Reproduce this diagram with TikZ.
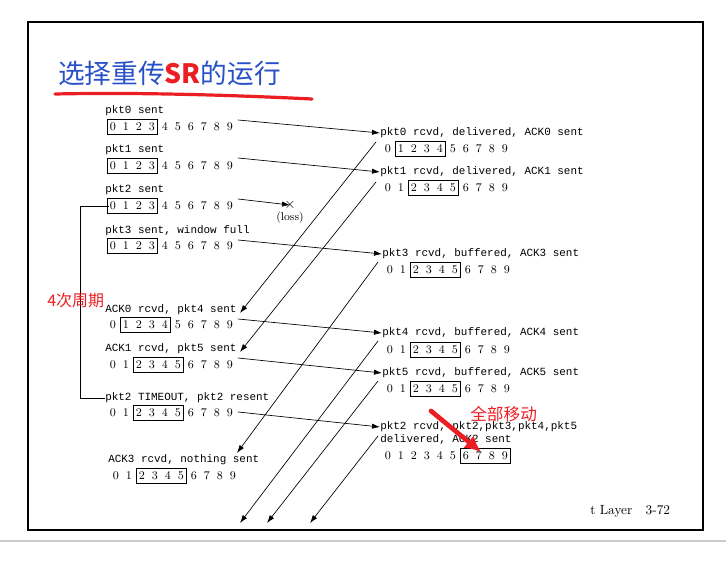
\documentclass[tikz,border=0pt]{standalone}
\usepackage{fontspec}
\setmonofont{Liberation Mono}
\newfontfamily\cjk{Noto Sans CJK SC}
\usetikzlibrary{arrows.meta,fit}
\definecolor{redone}{RGB}{235,30,35}
\definecolor{titleblue}{RGB}{40,80,200}
\newcommand\winrow[5]{%
  \foreach \i in {0,...,9} \node[dig] (#1-\i) at ({#2+13*\i},#3) {\i};
  \node[winbox, fit=(#1-#4)(#1-#5)] (#1-box) {};}
\begin{document}
\begin{tikzpicture}[x=0.75pt,y=-0.75pt,
  lbl/.style={anchor=west,inner sep=0pt,font=\ttfamily\fontsize{8.2}{9}\selectfont},
  dig/.style={inner sep=0.6pt,font=\fontsize{8.8}{9}\selectfont},
  winbox/.style={draw,inner xsep=0.8pt,inner ysep=1.6pt,line width=0.6pt},
  msg/.style={-{Latex[length=6pt,width=4pt]},line width=0.5pt}]
\useasboundingbox (0,0) rectangle (726,563);
\draw[line width=1.6pt] (28,22) rectangle (703,530);
\draw[gray!40,line width=1pt] (0,541) -- (726,541);
% title
\node[anchor=west,inner sep=0pt,font=\cjk\fontsize{20}{22}\selectfont,text=titleblue] (title) at (58,73) {选择重传\textcolor{redone}{\bfseries SR}的运行};
\draw[redone,line width=2.4pt,line cap=round] (55,94) .. controls (150,92) and (250,96) .. (312,99);
% sender
\node[lbl] (s0) at (105,111) {pkt0 sent};      \winrow{sw0}{113}{127}{0}{3}
\node[lbl] (s1) at (105,150) {pkt1 sent};      \winrow{sw1}{113}{166}{0}{3}
\node[lbl] (s2) at (105,190) {pkt2 sent};      \winrow{sw2}{113}{206}{0}{3}
\node[lbl] (s3) at (105,231) {pkt3 sent, window full}; \winrow{sw3}{113}{246}{0}{3}
\node[lbl] (s4) at (105,310) {ACK0 rcvd, pkt4 sent};   \winrow{sw4}{113}{325}{1}{4}
\node[lbl] (s5) at (105,349) {ACK1 rcvd, pkt5 sent};   \winrow{sw5}{113}{365}{2}{5}
\node[lbl] (s6) at (105,398) {pkt2 TIMEOUT, pkt2 resent}; \winrow{sw6}{113}{413}{2}{5}
\node[lbl] (s7) at (108,460) {ACK3 rcvd, nothing sent}; \winrow{sw7}{116}{476}{2}{5}
% receiver
\node[lbl] (r0) at (380,133) {pkt0 rcvd, delivered, ACK0 sent}; \winrow{rw0}{388}{149}{1}{4}
\node[lbl] (r1) at (380,172) {pkt1 rcvd, delivered, ACK1 sent}; \winrow{rw1}{388}{188}{2}{5}
\node[lbl] (r3) at (382,254) {pkt3 rcvd, buffered, ACK3 sent};  \winrow{rw3}{390}{270}{2}{5}
\node[lbl] (r4) at (382,333) {pkt4 rcvd, buffered, ACK4 sent};  \winrow{rw4}{390}{350}{2}{5}
\node[lbl] (r5) at (382,373) {pkt5 rcvd, buffered, ACK5 sent};  \winrow{rw5}{390}{389}{2}{5}
\node[lbl] (r2) at (380,427) {pkt2 rcvd, pkt2,pkt3,pkt4,pkt5};
\node[lbl] (r2b) at (380,440) {delivered, ACK2 sent}; \winrow{rw2}{388}{456}{6}{9}
% data arrows
\draw[msg] (238,120) -- (r0.west);
\draw[msg] (238,158) -- (r1.west);
\coordinate (lossx) at (290,205);
\draw[msg] (238,199) -- (lossx);
\node[inner sep=0pt,font=\fontsize{11}{11}\selectfont] (xmark) at (lossx) {$\times$};
\node[inner sep=0pt,font=\fontsize{8.5}{9}\selectfont] (loss) at (290,218) {(loss)};
\draw[msg] (238,240) -- (r3.west);
\draw[msg] (238,319) -- (r4.west);
\draw[msg] (238,358) -- (r5.west);
\draw[msg] (238,412) -- (r2.west);
% ack arrows
\coordinate (a0) at (240,313); \coordinate (a1) at (240,352); \coordinate (a3) at (237,453);
\coordinate (a4) at (240,523); \coordinate (a5) at (267,523); \coordinate (a2) at (310,523);
\draw[msg] (376,142) -- (a0);
\draw[msg] (376,182) -- (a1);
\draw[msg] (378,262) -- (a3);
\draw[msg] (378,341) -- (a4);
\draw[msg] (378,381) -- (a5);
\draw[msg] (378,436) -- (a2);
% bracket
\draw[line width=0.6pt] (sw2-0.west) -- (80,206) -- (80,398) -- (s6.west);
\node[text=redone,anchor=west,inner sep=0pt,font=\cjk\fontsize{12}{12}\selectfont] (cyc) at (47,300) {4次周期};
% red annotation
\node[text=redone,anchor=west,inner sep=0pt,font=\cjk\fontsize{12.5}{12}\selectfont] (move) at (470,414) {全部移动};
\coordinate (mv1) at (431,411);
\draw[redone,line width=3.5pt,line cap=round,-{Latex[length=12pt,width=12pt]}] (mv1) -- (481,452);
\node[anchor=west,inner sep=0pt,font=\fontsize{10}{10}\selectfont] (foot) at (590,511) {t Layer\quad 3-72};
\end{tikzpicture}
\end{document}
